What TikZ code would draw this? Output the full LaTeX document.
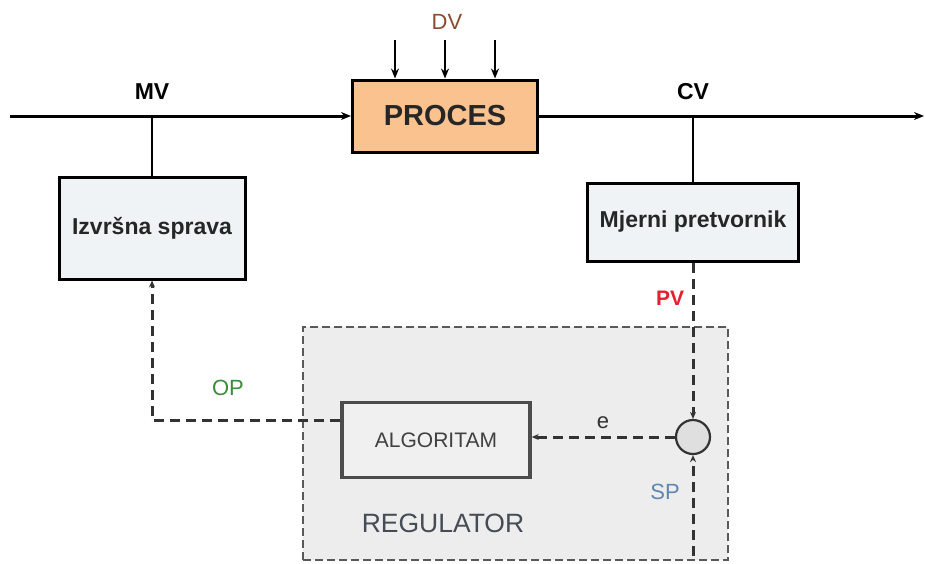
\documentclass[tikz,border=0pt]{standalone}
\usepackage{fontspec}
\setmainfont{Liberation Sans}
\usetikzlibrary{arrows.meta}
\definecolor{procfill}{HTML}{F9C28F}
\definecolor{boxfill}{HTML}{EFF3F5}
\definecolor{regfill}{HTML}{EDEDED}
\definecolor{dvcol}{HTML}{8A4B2E}
\definecolor{pvcol}{HTML}{E5202E}
\definecolor{opcol}{HTML}{3A8C3A}
\definecolor{spcol}{HTML}{5F86B3}
\definecolor{regcol}{HTML}{454C55}
\begin{document}
\begin{tikzpicture}[x=1pt,y=-1pt,
    >={Stealth[length=10pt,width=8pt]},
    block/.style={draw,line width=3pt,fill=boxfill,text=black!85,inner sep=0pt,
        minimum width=186pt,minimum height=102pt,font=\fontsize{23}{27}\selectfont\bfseries},
    lab/.style={font=\fontsize{22}{26}\selectfont},
    sig/.style={draw=black!80,line width=3pt,dash pattern=on 10pt off 6pt,
        >={Stealth[length=7pt,width=6pt]}}]
    \useasboundingbox (0,0) rectangle (925,563);
    \node [draw=gray!70!black,line width=1.8pt,dash pattern=on 8pt off 4pt,fill=regfill,
        minimum width=425pt,minimum height=233pt] (reg) at (515.5,443.5) {};
    \node [block,fill=procfill,minimum width=185pt,minimum height=72pt,
        font=\fontsize{29}{33}\selectfont\bfseries] (proc) at (445,116) {PROCES};
    \node [block] (izv) at (152,228) {Izvršna sprava};
    \node [block,minimum width=211pt,minimum height=78pt] (mjer) at (693,222) {Mjerni pretvornik};
    \node [block,line width=3.5pt,draw=black!70,fill=gray!12,text=black!75,minimum width=188pt,
        minimum height=75pt,font=\fontsize{21}{25}\selectfont] (alg) at (436,440) {ALGORITAM};
    \node [circle,draw=black!80,line width=2.2pt,fill=gray!25,minimum size=34pt,inner sep=0pt] (sum) at (693,437) {};
    \coordinate (in) at (10,116);
    \coordinate (out) at (924,116);
    \coordinate (mv) at (152,116);
    \coordinate (cv) at (693,116);
    \coordinate (op) at (152,420);
    \coordinate (sp) at (693,556);
    \coordinate (d1) at (395,40);
    \coordinate (d2) at (445,40);
    \coordinate (d3) at (495,40);
    \node [lab,font=\fontsize{23}{27}\selectfont\bfseries] (mvlab) at (152,92) {MV};
    \node [lab,font=\fontsize{23}{27}\selectfont\bfseries] (cvlab) at (693,92) {CV};
    \node [lab,text=dvcol] (dvlab) at (447,22) {DV};
    \node [lab,text=pvcol,font=\fontsize{21}{25}\selectfont\bfseries] (pvlab) at (670,298) {PV};
    \node [lab,text=opcol] (oplab) at (228,388) {OP};
    \node [lab,text=black!80] (elab) at (603,423) {e};
    \node [lab,text=spcol] (splab) at (665,492) {SP};
    \node [text=regcol,font=\fontsize{26.5}{30}\selectfont] (reglab) at (443,523) {REGULATOR};
    \draw [->,line width=3pt] (in) -- (proc);
    \draw [->,line width=3pt] (proc) -- (out);
    \draw [line width=2.5pt] (mv) -- (izv);
    \draw [line width=2pt] (cv) -- (mjer);
    \foreach \i in {1,2,3}
        \draw [->,line width=2pt] (d\i) -- (d\i |- proc.north);
    \draw [sig,->] (mjer) -- (sum);
    \draw [sig,->] (sp) -- (sum);
    \draw [sig,->] (sum) -- (sum -| alg.east);
    \draw [sig,->] (alg.west |- op) -- (op) -- (izv);
\end{tikzpicture}
\end{document}
